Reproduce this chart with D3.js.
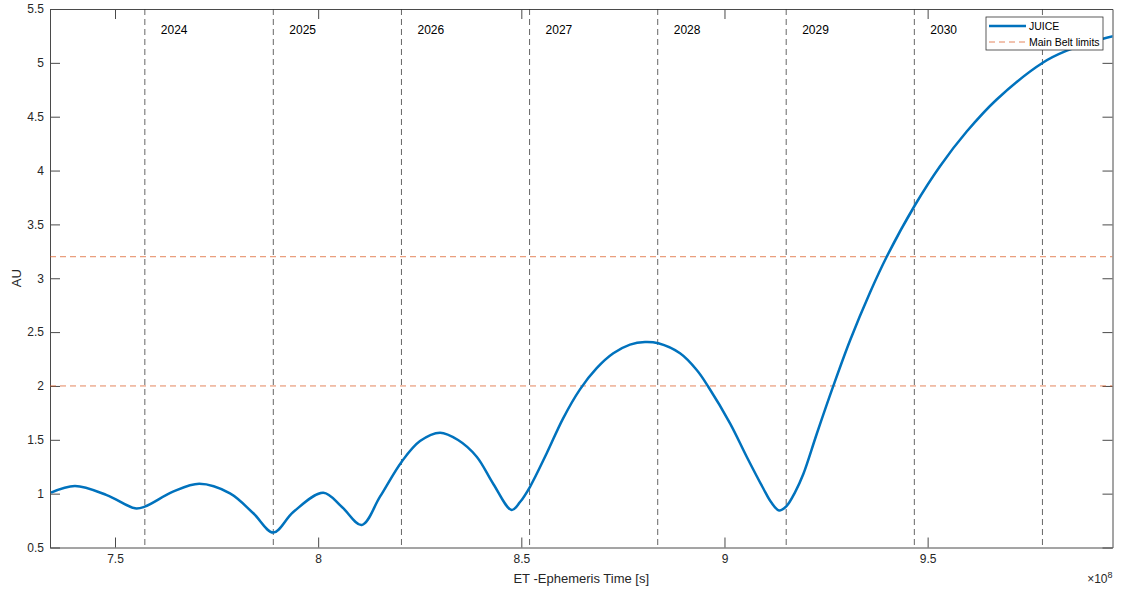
<!DOCTYPE html>
<html>
<head>
<meta charset="utf-8">
<script src="https://cdn.jsdelivr.net/npm/d3@7"></script>
<style>
  body { margin: 0; background: #fff; }
  text { font-family: "Liberation Sans", Arial, sans-serif; }
</style>
</head>
<body>
<svg id="chart"></svg>
<script>
// JUICE heliocentric distance, ET seconds vs AU
const etSeconds = [
  7.3425e8, 7.4015e8, 7.4796e8, 7.5492e8, 7.5731e8, 7.6427e8, 7.7075e8, 7.783e8,
  7.8404e8, 7.8896e8, 7.9388e8, 8.0127e8, 8.0579e8, 8.1072e8, 8.1522e8, 8.2056e8,
  8.2507e8, 8.30e8, 8.3443e8, 8.3902e8, 8.4311e8, 8.4763e8, 8.4968e8, 8.5214e8,
  8.5625e8, 8.6026e8, 8.6444e8, 8.6855e8, 8.7264e8, 8.7675e8, 8.8044e8, 8.8372e8,
  8.8906e8, 8.9317e8, 8.9602e8, 9.0137e8, 9.0547e8, 9.0956e8, 9.1146e8, 9.1343e8,
  9.1527e8, 9.1736e8, 9.1941e8, 9.227e8, 9.2679e8, 9.309e8, 9.3582e8, 9.3993e8,
  9.469e8, 9.5305e8, 9.5962e8, 9.67e8, 9.7833e8, 9.8424e8, 9.9317e8, 9.9563e8
]
const distanceAU = [
  1.009, 1.071, 0.987, 0.864, 0.879, 1.018, 1.092, 1.003,
  0.818, 0.639, 0.830, 1.009, 0.879, 0.709, 0.972, 1.297,
  1.488, 1.566, 1.498, 1.343, 1.090, 0.848, 0.922, 1.064,
  1.375, 1.697, 1.968, 2.165, 2.303, 2.384, 2.408, 2.396,
  2.303, 2.148, 1.993, 1.653, 1.343, 1.048, 0.922, 0.844,
  0.885, 1.012, 1.182, 1.554, 2.0, 2.422, 2.868, 3.2,
  3.68, 4.04, 4.362, 4.66, 5.001, 5.113, 5.224, 5.247
]

const beltLimits = [2.0, 3.2]
const yearLabels = ["2024", "2025", "2026", "2027", "2028", "2029", "2030", "2031"]
const yearStartEt = [7.5734e8, 7.8896e8, 8.2050e8, 8.5203e8, 8.8357e8, 9.1519e8, 9.4673e8, 9.7826e8]

const xTicks = [7.5e8, 8e8, 8.5e8, 9e8, 9.5e8]
const yTicks = [0.5, 1, 1.5, 2, 2.5, 3, 3.5, 4, 4.5, 5, 5.5]
const legendLabels = ["JUICE", "Main Belt limits"]

function initializeElements() {
const margin = ({top: 9, right: 8.5, bottom: 44.5, left: 50})
const svgWidth = 1121
const svgHeight = 592
const width = svgWidth - margin.left - margin.right
const height = svgHeight - margin.top - margin.bottom

const axisColor = "#4a4a4a"
const blue = "#0072BD"
const orange = "#D95319"

const svg = d3.select("#chart")
  .attr("width", svgWidth)
  .attr("height", svgHeight)

const xScale = d3.scaleLinear()
  .domain([7.34e8, 9.955e8])
  .range([0, width])

const yScale = d3.scaleLinear()
  .domain([0.5, 5.5])
  .range([height, 0])

const g = svg.append("g")
  .attr("transform", `translate(${margin.left}, ${margin.top})`)

g.append("clipPath").attr("id", "plotClip")
  .append("rect").attr("width", width).attr("height", height)

const fmt = d3.format("~g")

// axes, ticks pointing inward like matlab
const styleAxis = sel => {
  sel.select(".domain").attr("stroke", axisColor)
  sel.selectAll(".tick line").attr("stroke", axisColor)
  sel.selectAll(".tick text").attr("fill", "#262626").style("font-size", "12px")
}

g.append("g")
  .attr("transform", `translate(0, ${height})`)
  .call(d3.axisBottom(xScale).tickValues(xTicks).tickSizeInner(-10).tickSizeOuter(0)
    .tickPadding(7).tickFormat(d => fmt(d / 1e8)))
  .call(styleAxis)

g.append("g")
  .call(d3.axisTop(xScale).tickValues(xTicks).tickSizeInner(-10).tickSizeOuter(0).tickFormat(""))
  .call(styleAxis)

g.append("g")
  .call(d3.axisLeft(yScale).tickValues(yTicks).tickSizeInner(-10).tickSizeOuter(0)
    .tickPadding(6).tickFormat(fmt))
  .call(styleAxis)

g.append("g")
  .attr("transform", `translate(${width}, 0)`)
  .call(d3.axisRight(yScale).tickValues(yTicks).tickSizeInner(-10).tickSizeOuter(0).tickFormat(""))
  .call(styleAxis)

const plot = g.append("g").attr("clip-path", "url(#plotClip)")

// main belt limits
plot.selectAll(".belt")
  .data(beltLimits)
  .join("line")
  .attr("class", "belt")
  .attr("x1", 0).attr("x2", width)
  .attr("y1", d => yScale(d)).attr("y2", d => yScale(d))
  .attr("stroke", orange)
  .attr("stroke-opacity", 0.7)
  .attr("stroke-width", 1)
  .attr("stroke-dasharray", "6,4")

// year boundaries
plot.selectAll(".year")
  .data(yearStartEt)
  .join("line")
  .attr("class", "year")
  .attr("x1", d => xScale(d)).attr("x2", d => xScale(d))
  .attr("y1", 0).attr("y2", height)
  .attr("stroke", "#333")
  .attr("stroke-opacity", 0.75)
  .attr("stroke-width", 1)
  .attr("stroke-dasharray", "6,4")

plot.selectAll(".yearLabel")
  .data(yearLabels)
  .join("text")
  .attr("class", "yearLabel")
  .attr("x", (d, i) => xScale(yearStartEt[i]) + 16)
  .attr("y", 21)
  .attr("dy", "0.35em")
  .style("font-size", "12px")
  .attr("fill", "#000")
  .text(d => d)

const line = d3.line()
  .x((d, i) => xScale(etSeconds[i]))
  .y(d => yScale(d))
  .curve(d3.curveCatmullRom.alpha(0.5))

plot.append("path")
  .datum(distanceAU)
  .attr("d", line)
  .attr("fill", "none")
  .attr("stroke", blue)
  .attr("stroke-width", 2.5)

// axis titles
svg.append("text")
  .attr("x", margin.left + width / 2)
  .attr("y", 583)
  .attr("text-anchor", "middle")
  .style("font-size", "13px")
  .attr("fill", "#262626")
  .text("ET -Ephemeris Time [s]")

svg.append("text")
  .attr("transform", `translate(21, ${margin.top + height / 2}) rotate(-90)`)
  .attr("text-anchor", "middle")
  .style("font-size", "13px")
  .attr("fill", "#262626")
  .text("AU")

const expo = svg.append("text")
  .attr("x", svgWidth - margin.right)
  .attr("y", 583)
  .attr("text-anchor", "end")
  .style("font-size", "12px")
  .attr("fill", "#262626")
expo.append("tspan").text("\u00d710")
expo.append("tspan").attr("dy", -5).style("font-size", "9px").text("8")

// legend
const legend = svg.append("g").attr("transform", "translate(986, 17)")
legend.append("rect")
  .attr("width", 117).attr("height", 33)
  .attr("fill", "#fff").attr("stroke", "#333").attr("stroke-width", 0.8)

const rows = legend.selectAll(".row")
  .data(legendLabels)
  .join("g")
  .attr("transform", (d, i) => `translate(0, ${9 + i * 16})`)

rows.append("line")
  .attr("x1", 3).attr("x2", 40)
  .attr("stroke", (d, i) => i === 0 ? blue : orange)
  .attr("stroke-width", (d, i) => i === 0 ? 2.5 : 1)
  .attr("stroke-opacity", (d, i) => i === 0 ? 1 : 0.7)
  .attr("stroke-dasharray", (d, i) => i === 0 ? null : "6,4")

rows.append("text")
  .attr("x", 43)
  .attr("dy", "0.35em")
  .style("font-size", "10.5px")
  .attr("fill", "#000")
  .text(d => d)
}

initializeElements();
</script>
</body>
</html>
